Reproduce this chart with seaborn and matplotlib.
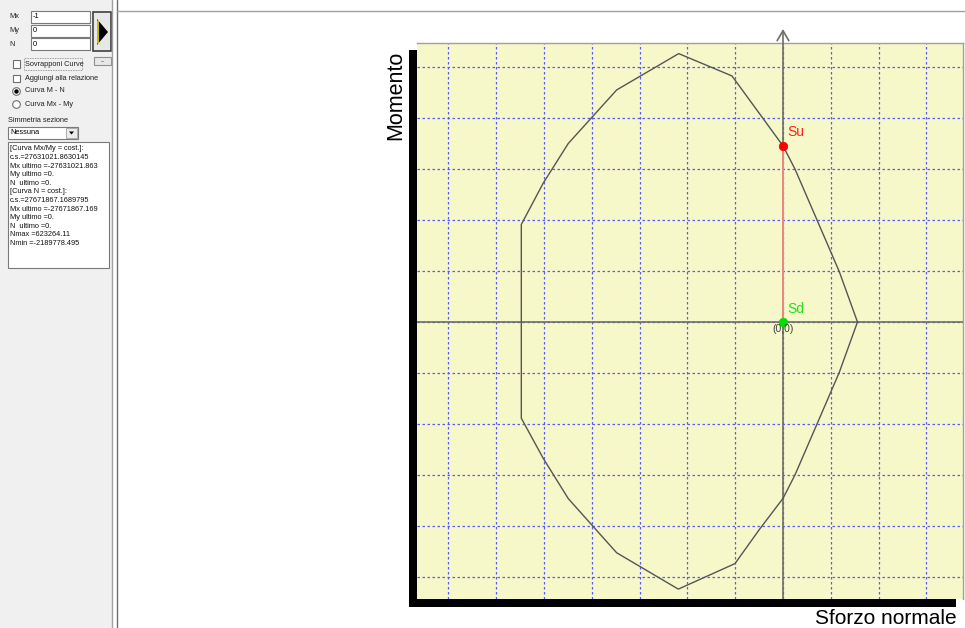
import numpy as np
import pandas as pd
import matplotlib
matplotlib.use("Agg")
import matplotlib.pyplot as plt
import seaborn as sns
from matplotlib.patches import Rectangle, Polygon, Circle
from matplotlib.lines import Line2D

# ---------------- data ----------------
# interaction domain M - N (Sforzo normale, Momento)
N_curve = [623264.11, 471000, 287000, 100000, 0, -427000, -873000, -1392000,
           -1797000, -2006000, -2189778.495, -2189778.495, -2006000, -1797000,
           -1392000, -876000, -402000, -192000, 0, 100000, 287000, 471000]
M_curve = [0, 7.9e6, 15.9e6, 24.0e6, 27631021.863, 38.6e6, 42.1e6, 36.4e6,
           28.0e6, 21.8e6, 15.3e6, -15.1e6, -21.4e6, -27.7e6,
           -36.2e6, -41.9e6, -37.9e6, -32.4e6, -27671867.169, -24.0e6, -15.9e6, -7.9e6]
su_N, su_M = [0.0], [27631021.863]
sd_N, sd_M = [0.0], [0.0]
grid_step_N = 400000
grid_step_M = 8000000
grid_N_idx = list(range(-7, 4))
grid_M_idx = list(range(-5, 6))
x_label = "Sforzo normale"
y_label = "Momento"

panel_fields = ["Mx", "My", "N"]
panel_values = ["-1", "0", "0"]
checkbox_labels = ["Sovrapponi Curve", "Aggiungi alla relazione"]
radio_labels = ["Curva M - N", "Curva Mx - My"]
symmetry_title = "Simmetria sezione"
symmetry_value = "Nessuna"
results_lines = ["[Curva Mx/My = cost.]:", "c.s.=27631021.8630145",
                 "Mx ultimo =-27631021.863", "My ultimo =0.", "N  ultimo =0.",
                 "[Curva N = cost.]:", "c.s.=27671867.1689795",
                 "Mx ultimo =-27671867.169", "My ultimo =0.", "N  ultimo =0.",
                 "Nmax =623264.11", "Nmin =-2189778.495"]

# ---------------- figure ----------------
W, H = 965, 628
sns.set_theme(style="white")
plt.rcParams["font.family"] = ["Liberation Sans", "DejaVu Sans"]
fig = plt.figure(figsize=(W / 100, H / 100), dpi=100)
fig.patch.set_facecolor("white")


def fx(x):
    return x / W


def fy(y):
    return 1 - y / H


def frect(x0, y0, x1, y1, **kw):
    fig.add_artist(Rectangle((fx(x0), fy(y1)), (x1 - x0) / W, (y1 - y0) / H,
                             transform=fig.transFigure, **kw))


def fline(xs, ys, **kw):
    fig.add_artist(Line2D([fx(x) for x in xs], [fy(y) for y in ys],
                          transform=fig.transFigure, **kw))


def ftext(x, y, s, **kw):
    fig.text(fx(x), fy(y), s, **kw)


# ---------------- left panel ----------------
frect(0, 0, 112, 628, facecolor="#f0f0f0", edgecolor="none")
fline([111.5, 111.5], [0, 628], color="#a0a0a0", lw=1)
fline([116.5, 116.5], [0, 628], color="#6e6e6e", lw=1)
fline([117, 965], [10.5, 10.5], color="#a0a0a0", lw=1)

fs_ui = 5.3
box_y = [(11, 23), (25, 37), (38, 50)]
for lab, val, (y0, y1) in zip(panel_fields, panel_values, box_y):
    ftext(9, (y0 + y1) / 2, lab, fontsize=fs_ui, va="center", color="#222222")
    frect(31, y0, 90, y1, facecolor="white", edgecolor="#7a7a7a", lw=0.8)
    ftext(33, (y0 + y1) / 2, val, fontsize=fs_ui, va="center", color="black")

# big run button
frect(93, 12, 111, 51, facecolor="#e8e8e8", edgecolor="#404040", lw=1.2)
fig.add_artist(Polygon([(fx(97), fy(19)), (fx(97), fy(45)), (fx(108), fy(32))],
                       closed=True, facecolor="black", edgecolor="none",
                       transform=fig.transFigure))
fline([97.8, 97.8], [21, 43], color="#f0e000", lw=1.2)
frect(94, 57, 111, 65, facecolor="#e8e8e8", edgecolor="#909090", lw=0.8)
ftext(102.5, 60, "...", fontsize=4, ha="center", va="center", color="black")

# checkboxes
for i, lab in enumerate(checkbox_labels):
    yc = 64 + i * 14.5
    frect(13, yc - 3.5, 20, yc + 3.5, facecolor="white", edgecolor="#707070", lw=0.8)
    ftext(25, yc, lab, fontsize=fs_ui, va="center", color="#222222")
frect(24, 58, 82, 70, facecolor="none", edgecolor="#808080", lw=0.6, ls=(0, (1, 1)))

# radio buttons
for i, lab in enumerate(radio_labels):
    yc = 91 + i * 13
    fig.add_artist(Line2D([fx(16)], [fy(yc)], marker="o", ms=5.5, mfc="white",
                          mec="#707070", mew=0.8, transform=fig.transFigure))
    if i == 0:
        fig.add_artist(Line2D([fx(16)], [fy(yc)], marker="o", ms=2.2, mfc="black",
                              mec="black", transform=fig.transFigure))
    ftext(25, yc, lab, fontsize=fs_ui, va="center", color="#222222")

ftext(8, 121, symmetry_title, fontsize=fs_ui, va="center", color="#222222")
frect(8, 127, 78, 139, facecolor="white", edgecolor="#7a7a7a", lw=0.8)
ftext(10, 133, symmetry_value, fontsize=fs_ui, va="center", color="black")
frect(66, 128, 77, 138, facecolor="#ececec", edgecolor="#a0a0a0", lw=0.6)
fig.add_artist(Polygon([(fx(69), fy(131.5)), (fx(74), fy(131.5)), (fx(71.5), fy(134.5))],
                       closed=True, facecolor="black", edgecolor="none",
                       transform=fig.transFigure))

frect(8, 142, 109, 268, facecolor="white", edgecolor="#7a7a7a", lw=0.8)
for i, line in enumerate(results_lines):
    ftext(10, 149 + i * 8.6, line, fontsize=fs_ui, va="center", color="#111111")

# ---------------- chart ----------------
px_left, px_right, px_top, px_bottom = 417, 963, 43, 599
x0_px, y0_px = 783, 322
du, dv = 47.8, 51.0


def xdata(px):
    return (px - x0_px) / du * grid_step_N


def ydata(py):
    return (y0_px - py) / dv * grid_step_M


# drop shadow
frect(409, 50, 417, 607, facecolor="black", edgecolor="none")
frect(409, 599, 956, 607, facecolor="black", edgecolor="none")

ax = fig.add_axes([fx(px_left), fy(px_bottom), (px_right - px_left) / W,
                   (px_bottom - px_top) / H])
ax.set_facecolor("#f7f8c9")
ax.set_xlim(xdata(px_left), xdata(px_right))
ax.set_ylim(ydata(px_bottom), ydata(px_top))
ax.set_xticks([i * grid_step_N for i in grid_N_idx])
ax.set_yticks([i * grid_step_M for i in grid_M_idx])
ax.tick_params(length=0, labelbottom=False, labelleft=False)
ax.grid(True, color="#5a5aff", lw=0.9, ls=(0, (2, 2)))
for s in ["left", "bottom"]:
    ax.spines[s].set_visible(False)
for s in ["top", "right"]:
    ax.spines[s].set_color("#a0a0a0")
    ax.spines[s].set_linewidth(1.0)

# axes through origin
ax.axhline(0, color="#6e6e64", lw=1.2, zorder=3)
ax.annotate("", xy=(0, ydata(29)), xytext=(0, ydata(px_bottom)),
            xycoords="data", annotation_clip=False,
            arrowprops=dict(arrowstyle="->,head_length=0.6,head_width=0.35",
                            color="#6e6e64", lw=1.2, shrinkA=0, shrinkB=0), zorder=3)

curve = pd.DataFrame({"N": N_curve + [N_curve[0]], "M": M_curve + [M_curve[0]]})
sns.lineplot(data=curve, x="N", y="M", sort=False, estimator=None,
             color="#555555", lw=1.0, ax=ax, zorder=4)

ax.plot([sd_N[0], su_N[0]], [sd_M[0], su_M[0]], color="#ff8a80", lw=1.2, zorder=5)
sns.scatterplot(x=su_N, y=su_M, color="#ff0000", s=38, edgecolor="#ff0000",
                ax=ax, zorder=6)
sns.scatterplot(x=sd_N, y=sd_M, color="#00e000", s=38, edgecolor="#00e000",
                ax=ax, zorder=6)
ax.set_xlabel("")
ax.set_ylabel("")

ax.annotate("Su", xy=(su_N[0], su_M[0]), xytext=(4, 7), textcoords="offset pixels",
            color="#ff2020", fontsize=10, va="bottom", ha="left", zorder=7)
ax.annotate("Sd", xy=(sd_N[0], sd_M[0]), xytext=(4, 6), textcoords="offset pixels",
            color="#20e020", fontsize=10, va="bottom", ha="left", zorder=7)
ax.annotate("(0,0)", xy=(0, 0), xytext=(0, -2), textcoords="offset pixels",
            color="#404040", fontsize=7.5, va="top", ha="center", zorder=7)

ftext(396, 95, y_label, fontsize=15.5, rotation=90, ha="center", va="center",
      color="black")
ftext(957, 618, x_label, fontsize=15, ha="right", va="center", color="black")

fig.savefig("out.png", dpi=100, facecolor="white")
